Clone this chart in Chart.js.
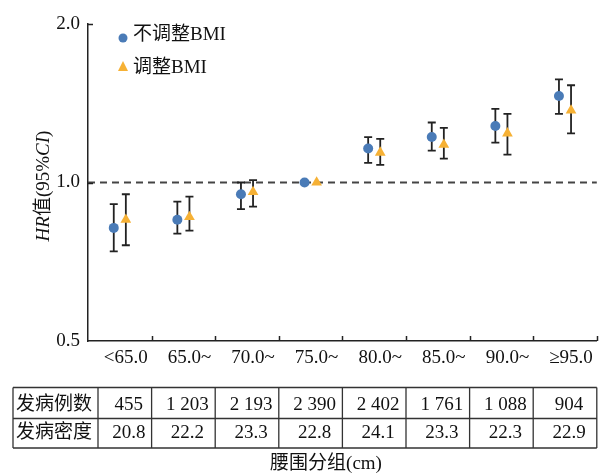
<!DOCTYPE html>
<html>
<head>
<meta charset="utf-8">
<script src="https://cdn.jsdelivr.net/npm/chart.js@4.4.1/dist/chart.umd.min.js"></script>
<style>
  html, body { margin: 0; padding: 0; background: #fff; }
  #wrap { width: 603px; height: 473px; }
</style>
</head>
<body>
<div id="wrap"><canvas id="chart" width="603" height="473"></canvas></div>
<script>
// waist circumference groups
const categories = ['<65.0', '65.0~', '70.0~', '75.0~', '80.0~', '85.0~', '90.0~', '≥95.0'];

// HR, not adjusted for BMI
const hrCrude   = [0.82, 0.85, 0.95, 1.00, 1.16, 1.22, 1.28, 1.46];
const crudeLow  = [0.74, 0.80, 0.89, null, 1.09, 1.15, 1.19, 1.35];
const crudeHigh = [0.91, 0.92, 1.00, null, 1.22, 1.30, 1.38, 1.57];

// HR, adjusted for BMI
const hrAdj   = [0.85, 0.86, 0.96, 1.00, 1.14, 1.18, 1.24, 1.37];
const adjLow  = [0.76, 0.81, 0.90, null, 1.08, 1.11, 1.13, 1.24];
const adjHigh = [0.95, 0.94, 1.01, null, 1.21, 1.27, 1.35, 1.53];

const yTicks = [0.5, 1.0, 2.0];

// table under the chart
const rowLabels = ['发病例数', '发病密度'];
const cases   = ['455', '1 203', '2 193', '2 390', '2 402', '1 761', '1 088', '904'];
const density = ['20.8', '22.2', '23.3', '22.8', '24.1', '23.3', '22.3', '22.9'];

const FONT = "'Liberation Serif', 'Noto Sans CJK SC', serif";
const blue = '#4a7bb7';
const orange = '#f6b135';
const ink = '#222';
const SHIFT = 0.095; // side-by-side offset of the two series within a group

// error bars + reference line at HR = 1
const errorBars = {
  id: 'errorBars',
  beforeDatasetsDraw(chart) {
    const { ctx, chartArea, scales: { x, y } } = chart;
    ctx.save();
    // dashed line at 1.0
    ctx.strokeStyle = '#444';
    ctx.lineWidth = 2;
    ctx.setLineDash([7, 5]);
    ctx.beginPath();
    ctx.moveTo(chartArea.left, y.getPixelForValue(1));
    ctx.lineTo(chartArea.right, y.getPixelForValue(1));
    ctx.stroke();
    ctx.setLineDash([]);

    ctx.strokeStyle = ink;
    ctx.lineWidth = 1.8;
    const bars = [[crudeLow, crudeHigh, -SHIFT], [adjLow, adjHigh, SHIFT]];
    bars.forEach(([lo, hi, off]) => {
      lo.forEach((l, i) => {
        if (l == null) return;
        const px = x.getPixelForValue(i + off);
        const y1 = y.getPixelForValue(l), y2 = y.getPixelForValue(hi[i]);
        ctx.beginPath();
        ctx.moveTo(px, y1); ctx.lineTo(px, y2);
        ctx.moveTo(px - 4, y1); ctx.lineTo(px + 4, y1);
        ctx.moveTo(px - 4, y2); ctx.lineTo(px + 4, y2);
        ctx.stroke();
      });
    });
    ctx.restore();
  }
};

// legend, axis title, inner ticks and the table
const decor = {
  id: 'decor',
  afterDraw(chart) {
    const { ctx, chartArea, scales: { x, y } } = chart;
    ctx.save();

    // inward tick marks
    ctx.strokeStyle = ink;
    ctx.lineWidth = 1.5;
    ctx.beginPath();
    for (let i = 0; i < categories.length; i++) {
      const px = Math.round(x.getPixelForValue(i + 0.5)) + 0.5;
      ctx.moveTo(px, chartArea.bottom);
      ctx.lineTo(px, chartArea.bottom - 5);
    }
    [1, 2].forEach(v => {
      const py = Math.round(y.getPixelForValue(v)) + 0.5;
      ctx.moveTo(chartArea.left, py);
      ctx.lineTo(chartArea.left + 5, py);
    });
    ctx.stroke();

    // legend
    ctx.font = '19px ' + FONT;
    ctx.fillStyle = '#111';
    ctx.textBaseline = 'middle';
    ctx.textAlign = 'left';
    ctx.fillStyle = blue;
    ctx.beginPath(); ctx.arc(123, 38, 4.5, 0, Math.PI * 2); ctx.fill();
    ctx.fillStyle = orange;
    ctx.beginPath();
    ctx.moveTo(123, 61); ctx.lineTo(128, 71); ctx.lineTo(118, 71); ctx.closePath();
    ctx.fill();
    ctx.fillStyle = '#111';
    ctx.fillText('不调整BMI', 133, 35);
    ctx.fillText('调整BMI', 133, 68);

    // y axis title: HR值(95%CI) with italic HR and CI
    const parts = [['HR', true], ['值(95%', false], ['CI', true], [')', false]];
    const fontOf = it => (it ? 'italic ' : '') + '19px ' + FONT;
    let total = 0;
    parts.forEach(([t, it]) => { ctx.font = fontOf(it); total += ctx.measureText(t).width; });
    ctx.translate(44, 186);
    ctx.rotate(-Math.PI / 2);
    let cx = -total / 2;
    parts.forEach(([t, it]) => {
      ctx.font = fontOf(it);
      ctx.fillText(t, cx, 0);
      cx += ctx.measureText(t).width;
    });
    ctx.setTransform(1, 0, 0, 1, 0, 0);

    // table
    const top = 387.5, mid = 418.5, bottom = 448;
    const left = 13, firstSep = 98;
    const seps = [left, firstSep];
    for (let i = 0; i < categories.length - 1; i++) seps.push(x.getPixelForValue(i + 0.5));
    seps.push(chartArea.right);
    ctx.strokeStyle = '#333';
    ctx.lineWidth = 1.3;
    ctx.beginPath();
    [top, mid, bottom].forEach(ly => { ctx.moveTo(left, ly); ctx.lineTo(chartArea.right, ly); });
    seps.forEach(sx => { ctx.moveTo(sx, top); ctx.lineTo(sx, bottom); });
    ctx.stroke();

    ctx.font = '19px ' + FONT;
    ctx.fillStyle = '#111';
    const rowY = [405, 433];
    ctx.textAlign = 'left';
    rowLabels.forEach((t, r) => ctx.fillText(t, left + 3, rowY[r]));
    ctx.textAlign = 'center';
    [cases, density].forEach((row, r) => {
      row.forEach((t, i) => {
        const cxm = (seps[i + 1] + seps[i + 2]) / 2 + 4;
        ctx.fillText(t, cxm, rowY[r]);
      });
    });

    // x axis title
    ctx.fillText('腰围分组(cm)', 326, 464);
    ctx.restore();
  }
};

new Chart(document.getElementById('chart'), {
  type: 'scatter',
  data: {
    datasets: [
      {
        label: '不调整BMI',
        data: hrCrude.map((v, i) => ({ x: i - SHIFT, y: v })),
        pointStyle: 'circle',
        pointRadius: 5,
        pointHoverRadius: 5,
        backgroundColor: blue,
        borderWidth: 0
      },
      {
        label: '调整BMI',
        data: hrAdj.map((v, i) => ({ x: i + SHIFT, y: v })),
        pointStyle: 'triangle',
        pointRadius: 6.2,
        pointHoverRadius: 6.2,
        backgroundColor: orange,
        borderWidth: 0
      }
    ]
  },
  options: {
    responsive: false,
    animation: false,
    devicePixelRatio: 1,
    layout: { padding: { top: 24, right: 1, left: 0, bottom: 0 } },
    plugins: { legend: { display: false }, tooltip: { enabled: false } },
    scales: {
      x: {
        type: 'linear',
        min: -0.5,
        max: categories.length - 0.5,
        afterBuildTicks: s => { s.ticks = categories.map((_, i) => ({ value: i })); },
        afterFit: s => { s.height = 132; },
        grid: { display: false, drawTicks: false },
        border: { display: true, color: ink, width: 1.5 },
        ticks: {
          callback: v => categories[v],
          labelOffset: 6,
          padding: 6,
          maxRotation: 0,
          autoSkip: false,
          color: '#111',
          font: { family: FONT, size: 19 }
        }
      },
      y: {
        type: 'logarithmic',
        min: 0.5,
        max: 2.0,
        afterBuildTicks: s => { s.ticks = yTicks.map(v => ({ value: v })); },
        afterFit: s => { s.width = 88; },
        grid: { display: false, drawTicks: false },
        border: { display: true, color: ink, width: 1.5 },
        ticks: {
          callback: v => Number(v).toFixed(1),
          padding: 8,
          color: '#111',
          font: { family: FONT, size: 19 }
        }
      }
    }
  },
  plugins: [errorBars, decor]
});
</script>
</body>
</html>
